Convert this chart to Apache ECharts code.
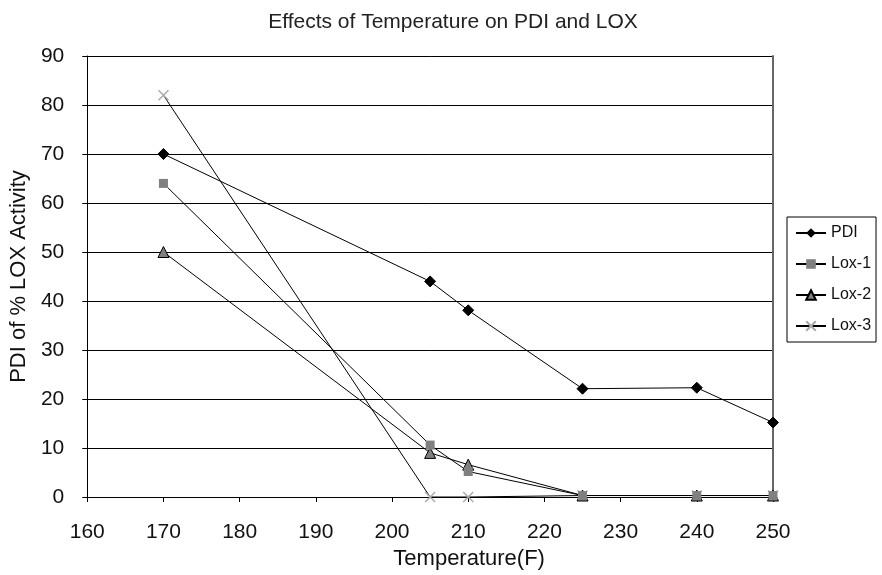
<!DOCTYPE html>
<html><head><meta charset="utf-8">
<script src="https://cdn.jsdelivr.net/npm/echarts@6/dist/echarts.min.js"></script>
<style>html,body{margin:0;padding:0;background:#fff}#c{width:882px;height:575px}</style>
</head><body><div id="c"></div>
<script>
const temps = [170, 205, 210, 225, 240, 250];
const pdi  = [70, 44, 38.1, 22.1, 22.3, 15.2];
const lox1 = [64, 10.6, 5.2, 0.3, 0.3, 0.3];
const lox2 = [50, 9.0, 6.6, 0.3, 0.3, 0.3];
const lox3 = [82, 0, 0, 0.3, 0.3, 0.3];
const xTicks = [160,170,180,190,200,210,220,230,240,250];
const yTicks = [0,10,20,30,40,50,60,70,80,90];

function pts(v){ return temps.map((t,i)=>[t,v[i]]); }
const font = 'Liberation Sans, Arial, sans-serif';
const xPath = 'path://M0,0L10,10M10,0L0,10';

const chart = echarts.init(document.getElementById('c'));
chart.setOption({
  animation:false,
  backgroundColor:'#fff',
  textStyle:{fontFamily:font},
  title:{text:'Effects of Temperature on PDI and LOX', left:448, top:7, textAlign:'center',
    textStyle:{fontFamily:font, fontSize:21, fontWeight:'normal', color:'#222'}},
  grid:{left:85, right:109, top:56, bottom:78},
  legend:{
    orient:'vertical', left:787, top:217, itemGap:15, itemWidth:30, itemHeight:12,
    borderColor:'#000', borderWidth:1, padding:[8,5,8,8],
    textStyle:{fontFamily:font, fontSize:16, color:'#111'},
    data:['PDI','Lox-1','Lox-2','Lox-3']
  },
  xAxis:{type:'value', min:xTicks[0], max:xTicks[xTicks.length-1], interval:10,
    name:'Temperature(F)', nameLocation:'middle', nameGap:51,
    nameTextStyle:{fontFamily:font, fontSize:22, color:'#111', padding:[0,0,0,78]},
    axisLine:{lineStyle:{color:'#000', width:1}},
    axisTick:{show:true, length:5, inside:false, lineStyle:{color:'#000'}},
    axisLabel:{fontFamily:font, fontSize:21, color:'#111', margin:25},
    splitLine:{show:false}},
  yAxis:[{type:'value', min:yTicks[0], max:yTicks[yTicks.length-1], interval:10,
    name:'PDI of % LOX Activity', nameLocation:'middle', nameGap:57,
    nameTextStyle:{fontFamily:font, fontSize:22, color:'#111'},
    axisLine:{show:true, lineStyle:{color:'#000', width:1}},
    axisTick:{show:true, length:5, lineStyle:{color:'#000'}},
    axisLabel:{fontFamily:font, fontSize:21, color:'#111', margin:23},
    splitLine:{show:true, lineStyle:{color:'#000', width:1}}},
   {type:'value', position:'right', min:0, max:90, interval:10,
    axisLine:{show:true, lineStyle:{color:'#666', width:2}},
    axisTick:{show:false}, axisLabel:{show:false}, splitLine:{show:false}}],
  series:[
    {name:'Lox-3', type:'line', data:pts(lox3), symbol:xPath, symbolSize:10,
      lineStyle:{color:'#000', width:1}, z:2,
      itemStyle:{color:'rgba(0,0,0,0)', borderColor:'#aaa', borderWidth:1.5}},
    {name:'Lox-2', type:'line', data:pts(lox2), symbol:'triangle', symbolSize:11,
      lineStyle:{color:'#000', width:1}, z:3,
      itemStyle:{color:'#808080', borderColor:'#000', borderWidth:1}},
    {name:'Lox-1', type:'line', data:pts(lox1), symbol:'rect', symbolSize:9,
      lineStyle:{color:'#000', width:1}, z:4,
      itemStyle:{color:'#808080', borderColor:'#808080', borderWidth:0}},
    {name:'PDI', type:'line', data:pts(pdi), symbol:'diamond', symbolSize:11,
      lineStyle:{color:'#000', width:1}, z:5,
      itemStyle:{color:'#000', borderColor:'#000'}}
  ]
});
</script></body></html>
